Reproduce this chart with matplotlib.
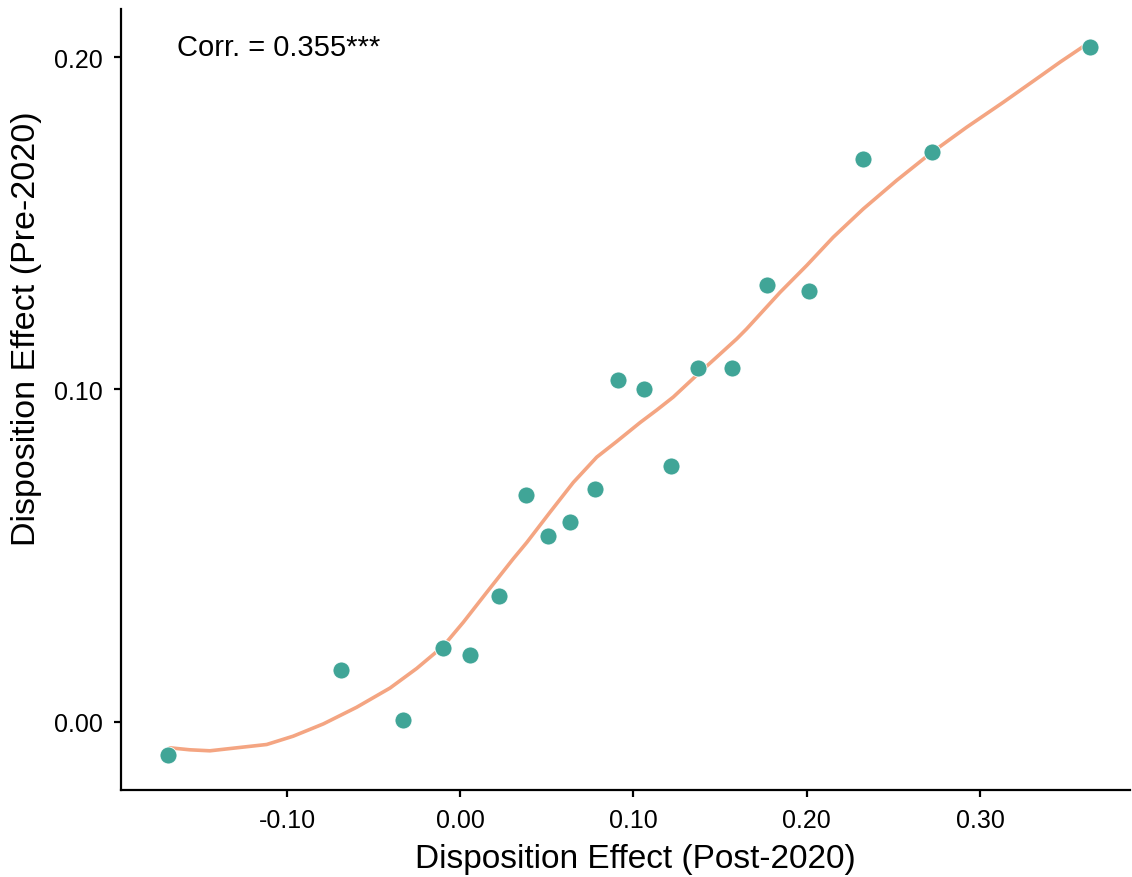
import matplotlib
matplotlib.use("Agg")
import matplotlib.pyplot as plt

plt.rcParams["font.family"] = ["Liberation Sans", "DejaVu Sans"]

# scatter points (Post-2020 vs Pre-2020 disposition effect)
post_2020 = [-0.1685, -0.0690, -0.0332, -0.0098, 0.0058, 0.0224, 0.0378, 0.0505,
             0.0635, 0.0778, 0.0909, 0.1062, 0.1215, 0.1374, 0.1567, 0.1769,
             0.2011, 0.2326, 0.2725, 0.3635]
pre_2020 = [-0.0102, 0.0154, 0.0005, 0.0222, 0.0201, 0.0379, 0.0682, 0.0558,
            0.0602, 0.0700, 0.1029, 0.1001, 0.0768, 0.1064, 0.1065, 0.1315,
            0.1297, 0.1692, 0.1714, 0.2032]

# smoothed fit line
fit_x = [-0.1676, -0.1560, -0.1445, -0.1290, -0.1117, -0.0964, -0.0790, -0.0598,
         -0.0405, -0.0251, -0.0098, 0.0018, 0.0153, 0.0306, 0.0384, 0.0518,
         0.0653, 0.0788, 0.0903, 0.1038, 0.1135, 0.1230, 0.1374, 0.1480, 0.1596,
         0.1653, 0.1846, 0.2000, 0.2153, 0.2326, 0.2519, 0.2711, 0.2923, 0.3134,
         0.3346, 0.3462, 0.3539, 0.3596]
fit_y = [-0.0079, -0.0085, -0.0088, -0.0079, -0.0069, -0.0044, -0.0007, 0.0043,
         0.0101, 0.0160, 0.0227, 0.0299, 0.0389, 0.0490, 0.0539, 0.0630,
         0.0720, 0.0796, 0.0843, 0.0900, 0.0938, 0.0977, 0.1047, 0.1097, 0.1152,
         0.1182, 0.1292, 0.1373, 0.1458, 0.1543, 0.1629, 0.1709, 0.1789, 0.1864,
         0.1942, 0.1985, 0.2012, 0.2032]

x_ticks = [-0.10, 0.00, 0.10, 0.20, 0.30]
y_ticks = [0.00, 0.10, 0.20]
corr_label = "Corr. = 0.355***"

fig = plt.figure(figsize=(11.32, 8.78), dpi=100)
ax = fig.add_axes([121 / 1132, 87 / 878, 1009 / 1132, 781 / 878])

ax.plot(fit_x, fit_y, color="#F4A582", lw=2.6, zorder=2,
        solid_capstyle="round", solid_joinstyle="round")
ax.scatter(post_2020, pre_2020, s=150, color="#40A597", edgecolors="white",
           linewidths=0.6, zorder=3)

ax.set_xlim(-0.1958, 0.3866)
ax.set_ylim(-0.0206, 0.2145)
ax.set_xticks(x_ticks)
ax.set_xticklabels([f"{t:.2f}" for t in x_ticks])
ax.set_yticks(y_ticks)
ax.set_yticklabels([f"{t:.2f}" for t in y_ticks])

for side in ["top", "right"]:
    ax.spines[side].set_visible(False)
for side in ["left", "bottom"]:
    ax.spines[side].set_linewidth(1.6)
ax.tick_params(width=1.6, length=5, labelsize=18, pad=8)

ax.set_xlabel("Disposition Effect (Post-2020)", fontsize=24, labelpad=8)
ax.set_ylabel("Disposition Effect (Pre-2020)", fontsize=24.5, labelpad=9)
ax.xaxis.label.set_x(0.51)
ax.yaxis.label.set_y(0.5915)
ax.text(0.0555, 0.951, corr_label, transform=ax.transAxes, fontsize=21,
        va="center", ha="left")

fig.savefig("out.png", dpi=100)
